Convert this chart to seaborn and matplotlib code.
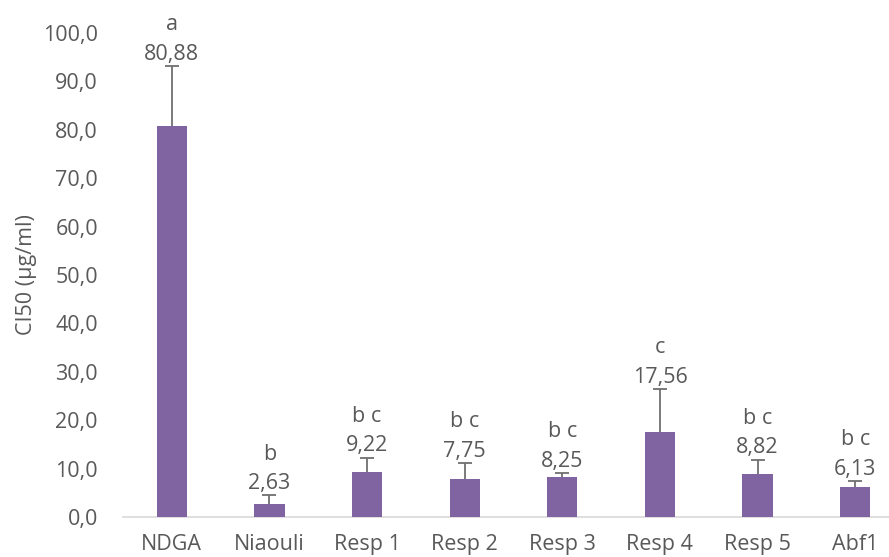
import numpy as np
import pandas as pd
import matplotlib
matplotlib.use("Agg")
import matplotlib.pyplot as plt
import seaborn as sns

categories = ["NDGA", "Niaouli", "Resp 1", "Resp 2", "Resp 3", "Resp 4", "Resp 5", "Abf1"]
values = [80.88, 2.63, 9.22, 7.75, 8.25, 17.56, 8.82, 6.13]
errors = [12.3, 1.9, 3.0, 3.4, 0.85, 8.9, 3.0, 1.3]
letters = ["a", "b", "b c", "b c", "b c", "c", "b c", "b c"]
yticks = [0, 10, 20, 30, 40, 50, 60, 70, 80, 90, 100]

sns.set_theme(style="white")
plt.rcParams['font.family'] = ['Open Sans', 'DejaVu Sans']

TXT = "#595959"
BAR = "#8064A2"
FS = 15.5

df = pd.DataFrame({"cat": categories, "val": values})

fig = plt.figure(figsize=(8.89, 5.57), dpi=100)
left = 123 / 889
width = (904 - 123) / 889
ax = fig.add_axes([left, 40 / 557, width, 484 / 557])

x = np.arange(len(categories))
ax.errorbar(x, values, yerr=errors, fmt="none",
            ecolor="#707070", elinewidth=1.3, capsize=5, capthick=1.3, zorder=1)
sns.barplot(data=df, x="cat", y="val", color=BAR, width=0.31, ax=ax,
            saturation=1, errorbar=None, linewidth=0)
for p in ax.patches:
    p.set_zorder(5)

for xi, v, e, l in zip(x, values, errors, letters):
    top = v + e
    ax.annotate(f"{v:.2f}".replace(".", ","), (xi, top), xytext=(0, 1),
                textcoords="offset points", ha="center", va="bottom",
                fontsize=FS, color=TXT)
    ax.annotate(l, (xi, top), xytext=(0, 22),
                textcoords="offset points", ha="center", va="bottom",
                fontsize=FS, color=TXT)

ax.set_xlim(-0.5, 7.5)
ax.set_ylim(0, 100)
ax.set_yticks(yticks)
ax.set_yticklabels([f"{t:.1f}".replace(".", ",") for t in yticks])
ax.tick_params(axis="both", labelsize=FS, colors=TXT, length=0)
ax.tick_params(axis="y", pad=18)
ax.tick_params(axis="x", pad=12)
ax.set_xlabel("")
ax.set_ylabel("CI50 (µg/ml)", fontsize=FS, color=TXT, labelpad=4)
for s in ["top", "right", "left"]:
    ax.spines[s].set_visible(False)
ax.spines["bottom"].set_color("#D9D9D9")
ax.spines["bottom"].set_linewidth(1.2)
ax.grid(False)

fig.savefig("out.png", dpi=100)
